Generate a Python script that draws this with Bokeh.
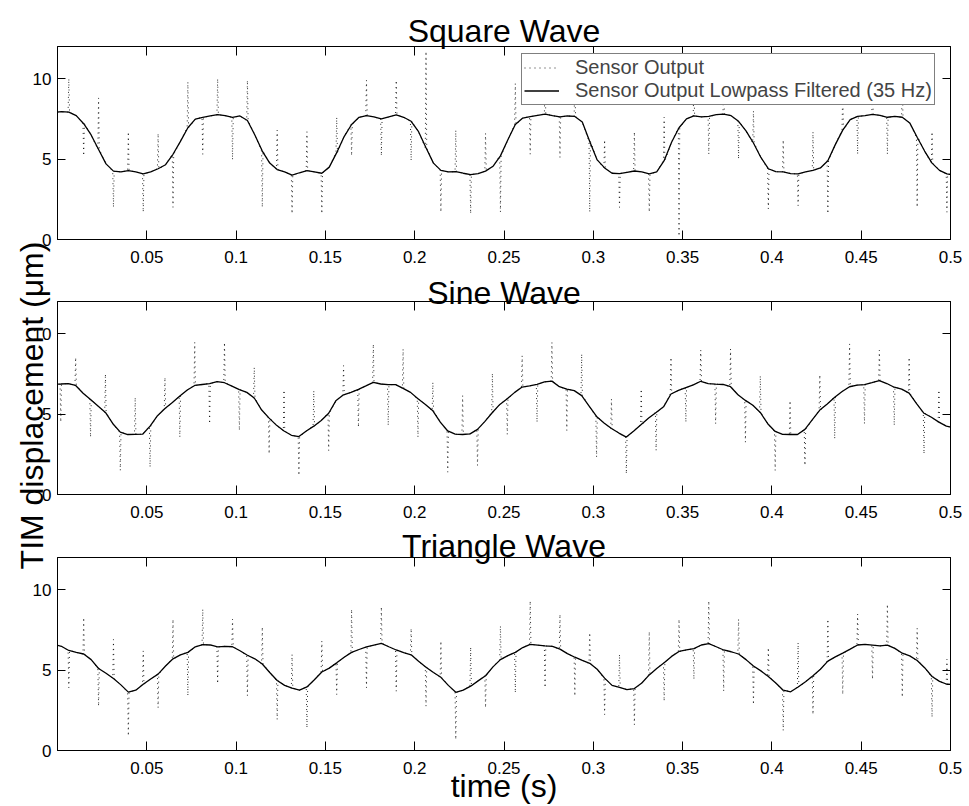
import numpy as np
from bokeh.plotting import figure
from bokeh.models import (Range1d, FixedTicker, LinearAxis, Legend, LegendItem,
                          ColumnDataSource)
from bokeh.layouts import column, row
from bokeh.embed import file_html
from bokeh.resources import INLINE
from bokeh.core.properties import value

# ---------------- data ----------------
titles = ["Square Wave", "Sine Wave", "Triangle Wave"]
x_label = "time (s)"
y_label = "TIM displacement (\u03bcm)"
legend_labels = ["Sensor Output", "Sensor Output Lowpass Filtered (35 Hz)"]

x_ticks = [0.05, 0.1, 0.15, 0.2, 0.25, 0.3, 0.35, 0.4, 0.45, 0.5]
x_tick_labels = ["0.05", "0.1", "0.15", "0.2", "0.25", "0.3", "0.35", "0.4", "0.45", "0.5"]
y_ticks = [0, 5, 10]
y_tick_labels = ["0", "5", "10"]

# time grid of the samples (s): start of each panel's grid and its step
grid_start = [-0.002, -0.0065, -0.002]
grid_step = 1.0 / 240.0

# lowpass-filtered output, one value per grid step
square_filtered = [
    7.9, 7.95, 7.92, 7.7, 7.2, 6.5, 5.6, 4.7, 4.25, 4.2,
    4.28, 4.2, 4.08, 4.2, 4.4, 4.65, 5.3, 6.1, 6.95, 7.48,
    7.6, 7.68, 7.76, 7.7, 7.6, 7.68, 7.4, 6.5, 5.5, 4.75,
    4.35, 4.2, 4.0, 4.15, 4.28, 4.2, 4.12, 4.5, 5.4, 6.4,
    7.15, 7.6, 7.7, 7.62, 7.5, 7.62, 7.75, 7.6, 7.35, 6.7,
    5.7, 4.75, 4.3, 4.2, 4.22, 4.12, 4.04, 4.1, 4.25, 4.55,
    5.2, 6.2, 7.15, 7.55, 7.64, 7.72, 7.8, 7.7, 7.62, 7.68,
    7.65, 7.3, 6.1, 4.95, 4.45, 4.12, 4.1, 4.18, 4.26, 4.2,
    4.08, 4.2, 4.9, 6.05, 6.95, 7.5, 7.68, 7.62, 7.65, 7.76,
    7.8, 7.7, 7.35, 6.75, 6.0, 5.1, 4.4, 4.22, 4.2, 4.1,
    4.08, 4.2, 4.3, 4.45, 4.9, 5.9, 6.8, 7.45, 7.65, 7.7,
    7.78, 7.72, 7.6, 7.65, 7.6, 7.25, 6.36, 5.5, 4.75, 4.3,
    4.08, 4.0, 4.0]
sine_filtered = [
    6.85, 6.86, 6.87, 6.9, 6.78, 6.3, 5.9, 5.5, 5.1, 4.4,
    3.88, 3.73, 3.74, 3.75, 4.25, 4.9, 5.35, 5.72, 6.12, 6.5,
    6.78, 6.84, 6.9, 7.02, 6.95, 6.74, 6.52, 6.35, 6.0, 5.25,
    4.75, 4.3, 3.95, 3.68, 3.6, 3.95, 4.25, 4.6, 5.05, 5.85,
    6.2, 6.35, 6.54, 6.75, 6.97, 6.87, 6.83, 6.83, 6.6, 6.35,
    5.95, 5.6, 5.2, 4.5, 3.95, 3.75, 3.73, 3.77, 4.05, 4.55,
    5.1, 5.6, 5.95, 6.35, 6.68, 6.75, 6.85, 7.0, 7.05, 6.7,
    6.55, 6.46, 6.15, 5.5, 4.85, 4.45, 4.1, 3.82, 3.57, 3.95,
    4.35, 4.75, 5.1, 5.45, 6.25, 6.47, 6.65, 6.82, 7.04, 6.9,
    6.86, 6.84, 6.7, 6.2, 5.85, 5.55, 5.1, 4.4, 3.92, 3.74,
    3.73, 3.73, 4.05, 4.65, 5.25, 5.63, 6.05, 6.4, 6.7, 6.8,
    6.83, 6.95, 7.08, 6.9, 6.67, 6.55, 6.3, 5.65, 5.05, 4.8,
    4.5, 4.25, 4.15]
triangle_filtered = [
    6.6, 6.48, 6.22, 6.1, 6.0, 5.65, 5.1, 4.8, 4.48, 4.08,
    3.63, 3.75, 4.12, 4.45, 4.75, 5.25, 5.7, 5.95, 6.1, 6.45,
    6.58, 6.56, 6.44, 6.48, 6.45, 6.2, 5.92, 5.7, 5.38, 4.85,
    4.35, 4.05, 3.88, 3.75, 3.95, 4.4, 4.88, 5.12, 5.45, 5.8,
    6.1, 6.28, 6.44, 6.55, 6.66, 6.45, 6.25, 6.08, 5.95, 5.55,
    5.18, 4.85, 4.55, 4.05, 3.62, 3.75, 4.0, 4.33, 4.65, 5.2,
    5.65, 5.9, 6.1, 6.4, 6.6, 6.55, 6.5, 6.48, 6.3, 6.02,
    5.8, 5.6, 5.42, 5.05, 4.5, 4.05, 3.92, 3.78, 3.85, 4.2,
    4.7, 5.1, 5.45, 5.85, 6.16, 6.25, 6.33, 6.56, 6.64, 6.45,
    6.25, 6.14, 6.0, 5.65, 5.25, 4.95, 4.6, 4.2, 3.75, 3.65,
    3.95, 4.28, 4.65, 5.05, 5.56, 5.82, 6.05, 6.3, 6.56, 6.6,
    6.55, 6.5, 6.55, 6.35, 6.05, 5.88, 5.6, 5.15, 4.6, 4.3,
    4.12, 4.1, 4.1]

# raw sensor output: extreme of each 60 Hz spike (every second grid step)
square_spikes = [
    5.5, 10.0, 5.2, 8.8, 2.0, 6.7, 1.7, 6.6, 2.0, 9.8,
    5.3, 10.0, 4.95, 9.9, 2.0, 6.8, 1.6, 6.7, 1.6, 7.6,
    5.2, 9.9, 5.2, 9.9, 4.9, 11.7, 1.7, 6.8, 1.6, 6.6,
    1.7, 9.7, 5.3, 9.8, 5.1, 9.8, 1.7, 6.2, 2.0, 6.7,
    1.7, 7.6, 0.2, 9.8, 5.3, 9.8, 5.0, 8.0, 1.9, 6.2,
    2.1, 6.7, 1.6, 9.5, 5.3, 9.8, 5.3, 9.8, 2.0, 6.7,
    1.7, 6.7]
sine_spikes = [
    8.0, 4.5, 8.53, 3.56, 7.5, 1.49, 6.04, 1.7, 7.29, 3.56,
    9.46, 4.39, 9.46, 3.98, 7.91, 2.52, 6.5, 1.18, 6.46, 2.73,
    8.01, 4.18, 9.36, 4.29, 9.05, 3.56, 6.98, 1.39, 6.15, 1.8,
    7.54, 3.73, 8.63, 4.49, 9.46, 3.98, 8.74, 2.32, 5.94, 1.28,
    6.56, 2.73, 8.53, 4.49, 8.98, 4.39, 9.05, 3.25, 7.39, 1.49,
    5.84, 1.8, 7.45, 3.46, 9.36, 4.39, 8.98, 4.29, 8.53, 2.52,
    6.5, 3.56]
triangle_spikes = [
    7.0, 3.9, 8.27, 2.75, 6.9, 0.9, 6.19, 2.65, 8.17, 3.4,
    8.79, 4.15, 8.17, 3.4, 7.69, 1.92, 5.98, 1.4, 6.81, 3.48,
    8.79, 3.9, 8.94, 3.69, 7.6, 2.75, 6.81, 0.67, 6.44, 2.65,
    7.75, 3.58, 9.31, 3.9, 8.48, 3.38, 7.33, 2.23, 5.98, 1.6,
    7.4, 3.06, 8.17, 4.42, 9.31, 3.69, 8.17, 2.85, 6.4, 1.23,
    6.71, 2.23, 8.17, 3.48, 8.48, 4.42, 9.1, 3.31, 7.6, 2.06,
    5.67, 3.5]

filtered = [square_filtered, sine_filtered, triangle_filtered]
spikes = [square_spikes, sine_spikes, triangle_spikes]

# ---------------- styling / layout ----------------
FONT = "Liberation Sans"
PAGE_W, PAGE_H = 969, 806
FRAME_W = 893
FRAME_H = 193
LEFT_B = 57
RIGHT_B = PAGE_W - LEFT_B - FRAME_W
heights = [268, 255, 283]
tops = [46, 33, 34]
# page positions (px from top-left) of the overlay texts
title_baselines = [30, 292, 545]
title_center_x = LEFT_B + FRAME_W / 2
ylabel_center = (31, 405)
SPIKE_HALF_WIDTH = 0.0004


def build_sources(t0, filt, spk):
    tf = [t0 + j * grid_step for j in range(len(filt))]
    xs, ys = [], []
    for j, (t, f) in enumerate(zip(tf, filt)):
        if j % 2 == 0 and j // 2 < len(spk):
            s = spk[j // 2]
            xs += [t - SPIKE_HALF_WIDTH, t, t + SPIKE_HALF_WIDTH]
            ys += [f, s, f]
        else:
            xs.append(t)
            ys.append(f)
    return (ColumnDataSource(dict(x=xs, y=ys)),
            ColumnDataSource(dict(x=tf, y=filt)))


def style_axis(ax, ticks, labels, show_labels, tick_len):
    ax.ticker = FixedTicker(ticks=ticks)
    if show_labels:
        ax.major_label_overrides = {t: l for t, l in zip(ticks, labels)}
    else:
        ax.major_label_overrides = {t: "" for t in ticks}
    ax.major_tick_in = tick_len
    ax.major_tick_out = 0
    ax.minor_tick_line_color = None
    ax.major_tick_line_color = "black"
    ax.axis_line_color = "black"
    ax.major_label_text_font = FONT
    ax.major_label_text_font_size = "17px"
    ax.major_label_text_color = "black"


panels = []
for i in range(3):
    bottom = heights[i] - tops[i] - FRAME_H
    p = figure(width=PAGE_W, height=heights[i],
               x_range=Range1d(0, 0.5), y_range=Range1d(0, 12),
               output_backend="svg", toolbar_location=None, tools="",
               min_border_left=LEFT_B, min_border_right=RIGHT_B,
               min_border_top=tops[i], min_border_bottom=bottom)
    p.add_layout(LinearAxis(), "above")
    p.add_layout(LinearAxis(), "right")
    p.grid.visible = False
    p.outline_line_color = "black"
    p.outline_line_width = 1
    p.background_fill_color = "white"

    style_axis(p.below[0], x_ticks, x_tick_labels, True, 9)
    style_axis(p.above[0], x_ticks, x_tick_labels, False, 9)
    style_axis(p.left[0], y_ticks, y_tick_labels, True, 8)
    style_axis(p.right[0], y_ticks, y_tick_labels, False, 8)
    p.below[0].major_label_standoff = 11
    p.left[0].major_label_standoff = 6

    src_sensor, src_filt = build_sources(grid_start[i], filtered[i], spikes[i])
    r_s = p.line("x", "y", source=src_sensor, line_color="black", line_width=1,
                 line_dash="1 4", line_alpha=0.85)
    r_f = p.line("x", "y", source=src_filt, line_color="black", line_width=1.3)

    if i == 0:
        leg = Legend(items=[LegendItem(label=legend_labels[0], renderers=[r_s]),
                            LegendItem(label=legend_labels[1], renderers=[r_f])],
                     location=(464, 134))
        leg.border_line_color = "black"
        leg.border_line_width = 1
        leg.background_fill_color = "white"
        leg.background_fill_alpha = 1
        leg.label_text_font = FONT
        leg.label_text_font_size = "20px"
        leg.glyph_width = 35
        leg.glyph_height = 21
        leg.label_height = 21
        leg.label_standoff = 16
        leg.padding = 2
        leg.spacing = 0
        leg.margin = 0
        p.add_layout(leg, "center")

    if i == 2:
        ax = p.below[0]
        ax.axis_label = x_label
        ax.axis_label_text_font = FONT
        ax.axis_label_text_font_size = "32px"
        ax.axis_label_text_font_style = "normal"
        ax.axis_label_text_color = "black"
        ax.axis_label_standoff = -9

    panels.append(p)

# transparent full-page overlay that carries the titles and the shared y label
ov = figure(width=PAGE_W, height=PAGE_H, x_range=Range1d(0, PAGE_W),
            y_range=Range1d(0, PAGE_H), output_backend="svg",
            toolbar_location=None, tools="", min_border=0,
            x_axis_location=None, y_axis_location=None)
ov.grid.visible = False
ov.outline_line_color = None
ov.border_fill_alpha = 0
ov.background_fill_alpha = 0
ov.text(x=[title_center_x] * 3, y=[PAGE_H - b for b in title_baselines],
        text=titles, text_align="center", text_baseline="alphabetic",
        text_font=value(FONT), text_font_size="32px", text_color="black")
ov.text(x=[ylabel_center[0]], y=[PAGE_H - ylabel_center[1]], text=[y_label],
        angle=np.pi / 2, text_align="center", text_baseline="alphabetic",
        text_font=value(FONT), text_font_size="32px", text_color="black")

col = column(*panels)
layout = row(col, ov)
ov.margin = (0, 0, 0, -PAGE_W)

open("out.html", "w").write(file_html(layout, INLINE))
